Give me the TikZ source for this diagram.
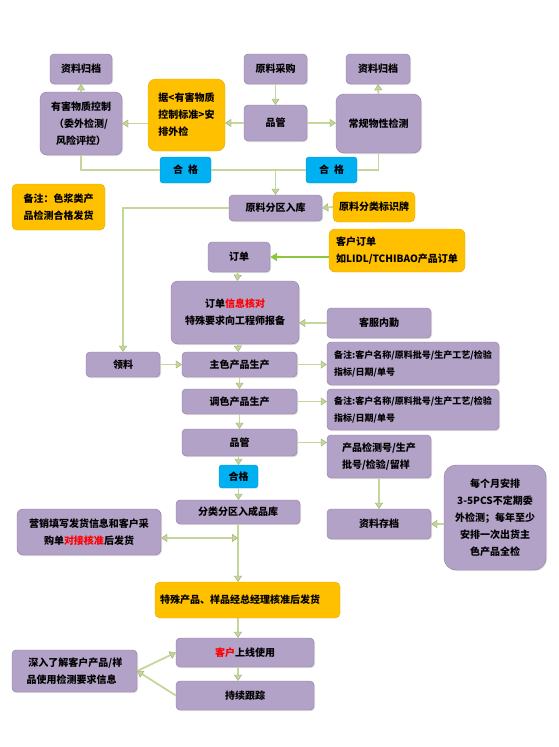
\documentclass[tikz,border=0pt]{standalone}
\usepackage{fontspec}
\setmainfont{Noto Sans CJK SC}
\usepackage{xcolor}
\usepackage{tikz}
\usetikzlibrary{positioning,arrows.meta,shadows}
\definecolor{boxfill}{HTML}{B3A2C7}
\definecolor{boxline}{HTML}{8C7AA3}
\definecolor{notefill}{HTML}{FFC000}
\definecolor{noteline}{HTML}{E3A900}
\definecolor{passfill}{HTML}{00B0F0}
\definecolor{passline}{HTML}{0C8FC4}
\definecolor{linkcol}{HTML}{C4D79B}
\definecolor{linkedge}{HTML}{98AD6E}
\definecolor{ordergreen}{HTML}{8CC63F}
\tikzset{
  procbox/.style={draw=boxline, fill=boxfill, rounded corners=4pt, align=center, inner sep=2pt,
    drop shadow={shadow xshift=1pt, shadow yshift=-1pt, opacity=.25}},
  notebox/.style={draw=noteline, fill=notefill, rounded corners=5pt, align=left, inner sep=2pt},
  passbox/.style={draw=passline, fill=passfill, rounded corners=3pt, align=center, inner sep=2pt},
  tip/.tip={Triangle[length=6pt, width=8pt, fill=linkcol, color=linkedge, line width=.4pt]},
  link/.style={-tip, line width=1.8pt, draw=linkcol},
  plainlink/.style={line width=1.8pt, draw=linkcol}
}

\begin{document}
\begin{tikzpicture}[x=1pt, y=-1pt, font=\bfseries\fontsize{10}{17}\selectfont]
  \useasboundingbox (0,0) rectangle (558,747);
  \tikzset{
    small/.style={font=\bfseries\fontsize{9}{17}\selectfont}
  }

  % raw material intake
  \node[procbox, minimum width=62pt, minimum height=30pt] (arcA) at (81,69) {资料归档};
  \node[procbox, minimum width=82pt, minimum height=63pt, rounded corners=7pt] (hazard) at (81,123.5) {有害物质控制\\（委外检测/\\风险评控）};
  \node[notebox, minimum width=77pt, minimum height=72pt, rounded corners=8pt] (basis) at (186.5,115) {据<有害物质\\控制标准>安\\排外检};
  \node[procbox, minimum width=63pt, minimum height=30pt] (buy) at (275.5,69) {原料采购};
  \node[procbox, minimum width=63pt, minimum height=36pt] (qcA) at (275.5,123) {品管};
  \node[procbox, minimum width=64pt, minimum height=30pt] (arcB) at (378,69) {资料归档};
  \node[procbox, minimum width=85pt, minimum height=59pt, rounded corners=8pt] (phys) at (378.5,123.5) {常规物性检测};
  \node[passbox, minimum width=51pt, minimum height=26pt] (okA) at (185.5,170) {合\enspace 格};
  \node[passbox, minimum width=51pt, minimum height=26pt] (okB) at (331.5,170) {合\enspace 格};
  \node[notebox, minimum width=93pt, minimum height=46pt] (remark) at (58.5,207) {备注：色浆类产\\品检测合格发货};
  \node[procbox, minimum width=93pt, minimum height=26pt] (store) at (275.5,208) {原料分区入库};
  \node[notebox, minimum width=82pt, minimum height=30pt] (tag) at (374,207) {原料分类标识牌};

  % order and production
  \node[procbox, minimum width=62pt, minimum height=30pt] (order) at (239,257) {订单};
  \node[notebox, minimum width=136pt, minimum height=43pt, rounded corners=6pt] (cust) at (397,250.5) {客户订单\\如LIDL/TCHIBAO产品订单};
  \node[procbox, minimum width=128pt, minimum height=63pt, rounded corners=7pt] (check) at (235,312.5) {订单\textcolor{red}{信息核对}\\特殊要求向工程师报备};
  \node[procbox, minimum width=104pt, minimum height=30pt] (cs) at (379,323) {客服内勤};
  \node[procbox, minimum width=74pt, minimum height=25pt] (pick) at (123,364.5) {领料};
  \node[procbox, minimum width=115pt, minimum height=25pt] (mainprod) at (239.5,364.5) {主色产品生产};
  \node[procbox, minimum width=115pt, minimum height=25pt] (tint) at (239.5,401.5) {调色产品生产};
  \node[procbox, minimum width=115pt, minimum height=27pt] (qcB) at (239.5,442.5) {品管};
  \node[procbox, small, align=left, minimum width=172pt, minimum height=43pt] (remA) at (413,363.5) {备注:客户名称/原料批号/生产工艺/检验\\指标/日期/单号};
  \node[procbox, small, align=left, minimum width=172pt, minimum height=41pt] (remB) at (413,409.5) {备注:客户名称/原料批号/生产工艺/检验\\指标/日期/单号};
  \node[procbox, align=left, minimum width=104pt, minimum height=43pt] (testno) at (379,456.5) {产品检测号/生产\\批号/检验/留样};

  % finished goods and after sales
  \node[passbox, minimum width=39pt, minimum height=23pt] (okC) at (238.5,476.5) {合格};
  \node[procbox, minimum width=124pt, minimum height=24pt] (fgs) at (238,512) {分类分区入成品库};
  \node[procbox, minimum width=144pt, minimum height=46pt, rounded corners=6pt] (sales) at (89,532) {营销填写发货信息和客户采\\购单\textcolor{red}{对接核准}后发货};
  \node[procbox, minimum width=104pt, minimum height=30pt] (arcC) at (379,524) {资料存档};
  \node[procbox, minimum width=102pt, minimum height=105pt, rounded corners=12pt] (month) at (495,517.5) {每个月安排\\3-5PCS不定期委\\外检测；每年至少\\安排一次出货主\\色产品全检};
  \node[notebox, align=left, text width=175pt, minimum height=36pt, inner sep=5pt] (special) at (247.5,600) {特殊产品、样品经总经理核准后发货};
  \node[procbox, minimum width=138pt, minimum height=29pt] (online) at (245,652.5) {\textcolor{red}{客户}上线使用};
  \node[procbox, minimum width=138pt, minimum height=29pt] (track) at (245,695.5) {持续跟踪};
  \node[procbox, align=left, minimum width=125pt, minimum height=42pt] (learn) at (74.5,671) {\,深入了解客户产品/样\\品使用检测要求信息};

  \coordinate (fork) at (fgs.south |- 0,538);

  \draw[link] (hazard.north) -- (arcA.south);
  \draw[link] (basis.west |- hazard) -- (hazard.east);
  \draw[link] (qcA.west) -- (basis.east |- qcA);
  \draw[link] (buy) -- (qcA);
  \draw[link] (qcA.east) -- (phys.west |- qcA);
  \draw[link] (phys.north) -- (arcB.south);
  \draw[plainlink] (hazard.south) |- (okA.west);
  \draw[link] (okA.east) -| (store.north);
  \draw[plainlink] (phys.south) |- (okB.east);
  \draw[plainlink] (okB.west) -- (store.north |- okB);
  \draw[link] (tag.west) -- (store.east);
  \draw[link] (store.west) -| (pick.north);

  \draw[-{Triangle[length=7pt, width=8pt]}, line width=1.8pt, draw=ordergreen] (cust.west |- order) -- (order.east);
  \draw[link] (order) -- (check);
  \draw[link] (cs.west) -- (check.east |- cs);
  \draw[link] (check) -- (mainprod);
  \draw[link] (pick) -- (mainprod);
  \draw[link] (mainprod) -- (tint);
  \draw[link] (tint) -- (qcB);
  \draw[link] (mainprod.east) -- (remA.west |- mainprod);
  \draw[link] (tint.east) -- (remB.west |- tint);
  \draw[link] (qcB.east) -- (testno.west |- qcB);
  \draw[link] (qcB.south -| okC) -- (okC.north);
  \draw[link] (okC.south) -- (fgs.north -| okC);
  \draw[link] (testno.south -| arcC) -- (arcC.north);
  \draw[link] (month.west |- arcC) -- (arcC.east);

  \draw[link] (fgs.south) -- (fgs.south |- special.north);
  \draw[link, tip-tip] (sales.east |- fork) -- (fork);
  \draw[link] (special.south -| fgs.south) -- (online.north -| fgs.south);
  \draw[link] (online.south -| fgs.south) -- (track.north -| fgs.south);
  \draw[link] (learn.east) -- (online.west);
  \draw[link] (track.west) -- (learn.east);
\end{tikzpicture}
\end{document}
